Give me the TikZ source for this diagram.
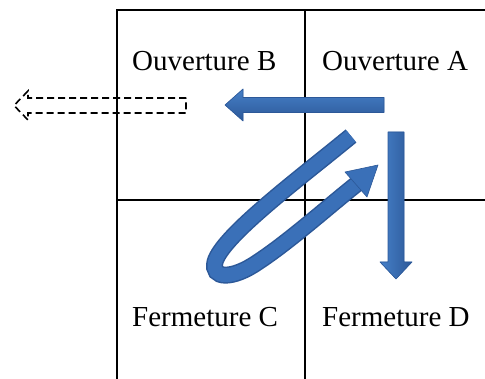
\documentclass[tikz,border=0pt]{standalone}
\usepackage{fontspec}
\setmainfont{Liberation Serif}
\definecolor{arrblue}{RGB}{58,112,184}
\definecolor{arrdark}{RGB}{44,88,152}
\definecolor{arrlight}{RGB}{70,128,200}
\tikzset{
  gridline/.style={line width=1.2pt, black},
  blockarrow/.style={fill=arrblue, draw=arrdark, line width=0.6pt, line join=round},
  ghostarrow/.style={draw=black, dash pattern=on 7pt off 4pt, line width=1.6pt, fill=none},
  ribbon/.style={draw=arrblue, line width=17pt, line cap=butt},
  lbl/.style={font=\fontsize{29pt}{32pt}\selectfont, anchor=base west, inner sep=0pt}
}
\begin{document}
\begin{tikzpicture}[x=1pt,y=-1pt]
\useasboundingbox (0,0) rectangle (485,379);
% grid
\draw[gridline] (117,379) -- (117,10) -- (485,10);
\draw[gridline] (305,10) -- (305,379);
\draw[gridline] (117,200) -- (485,200);
% labels
\node[lbl] (oB) at (132,71) {Ouverture B};
\node[lbl] (oA) at (322,71) {Ouverture A};
\node[lbl] (fC) at (132,327) {Fermeture C};
\node[lbl] (fD) at (322,327) {Fermeture D};
% dashed ghost arrow
\draw[ghostarrow] (186,98) -- (28,98) -- (28,91) -- (14,105.5) -- (28,120) -- (28,113) -- (186,113) -- cycle;
% left arrow A -> B
\draw[blockarrow, top color=arrlight, bottom color=arrdark] (384,97.5) -- (243,97.5) -- (243,89) -- (225,105) -- (243,121) -- (243,112.5) -- (384,112.5) -- cycle;
% down arrow A -> D
\draw[blockarrow, left color=arrlight, right color=arrdark] (388,132) -- (388,262) -- (380,262) -- (396,279) -- (412,262) -- (404,262) -- (404,132) -- cycle;
% curved ribbon arrow
\coordinate (rs) at (351,136);
\coordinate (rb) at (215,262);
\coordinate (rm) at (258,262);
\coordinate (re) at (358,183);
\draw[ribbon, draw=arrdark] (rs) .. controls (300,178) and (222,236) .. (rb)
   .. controls (211,279) and (232,280) .. (rm) .. controls (290,241) and (330,205) .. (re);
\draw[ribbon, line width=14pt] (rs) .. controls (300,178) and (222,236) .. (rb)
   .. controls (211,279) and (232,280) .. (rm) .. controls (290,241) and (330,205) .. (re);
\draw[blockarrow] (378,165) -- (345,172) -- (367,197) -- cycle;
\end{tikzpicture}
\end{document}
